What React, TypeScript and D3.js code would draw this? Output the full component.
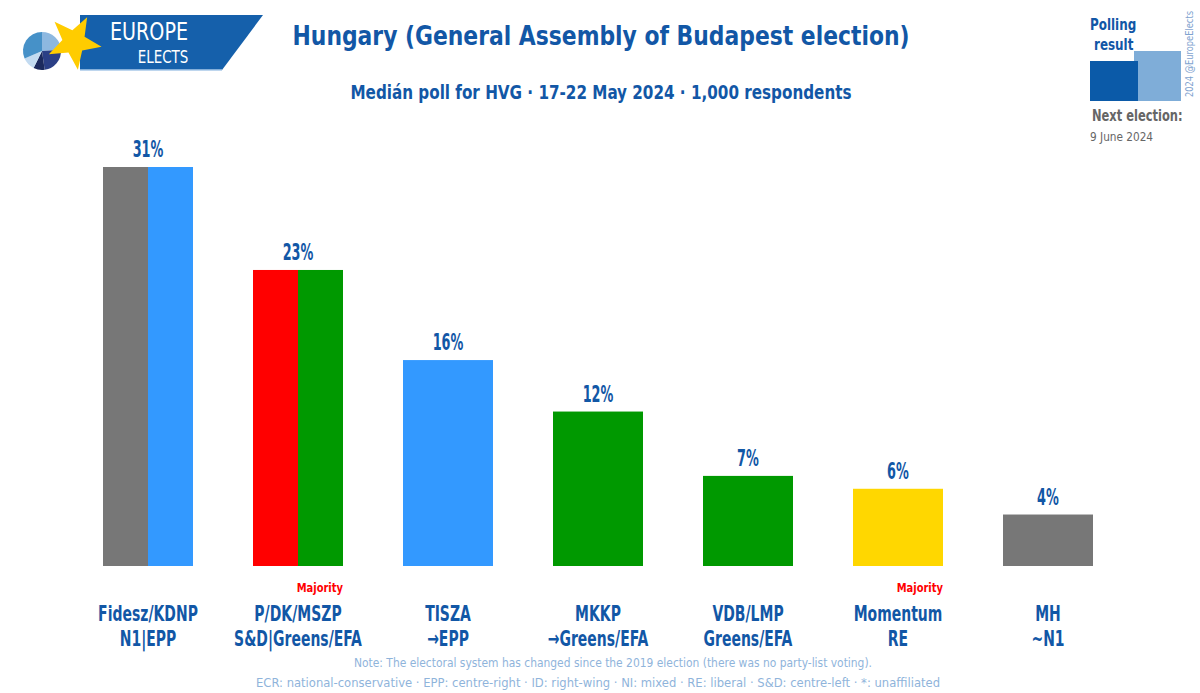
import * as d3 from 'd3';
import React, { useEffect, useRef } from 'react';

const parties = ['Fidesz/KDNP', 'P/DK/MSZP', 'TISZA', 'MKKP', 'VDB/LMP', 'Momentum', 'MH'];
const groups = ['N1|EPP', 'S&D|Greens/EFA', '→EPP', '→Greens/EFA', 'Greens/EFA', 'RE', '~N1'];
const values = [31, 23, 16, 12, 7, 6, 4];
const colorsLeft = ['#777777', '#ff0000', '#3399ff', '#009900', '#009900', '#ffd700', '#777777'];
const colorsRight = ['#3399ff', '#009900', '#3399ff', '#009900', '#009900', '#ffd700', '#777777'];
const majority = [false, true, false, false, false, true, false];

const blue = '#1257a6';
const font = "'DejaVu Sans', sans-serif";
const narrow: React.CSSProperties = { fontStretch: 'condensed' };

// text squeezed horizontally, to get near the narrow original font
const Squeezed = ({ x, y, s, children, ...rest }: any) => (
    <text transform={`translate(${x},${y}) scale(${s},1)`} fontFamily={font} style={narrow} {...rest}>
        {children}
    </text>
);

const starPoints = (cx: number, cy: number, r: number, a0: number) => {
    const pts: string[] = [];
    for (let k = 0; k < 10; k++) {
        const rr = k % 2 === 0 ? r : r * 0.42;
        const a = ((a0 + k * 36) * Math.PI) / 180;
        pts.push(`${cx + rr * Math.cos(a)},${cy + rr * Math.sin(a)}`);
    }
    return pts.join(' ');
};

const slice = (cx: number, cy: number, r: number, a1: number, a2: number) => {
    const arc = d3.arc()({ innerRadius: 0, outerRadius: r, startAngle: a1, endAngle: a2 } as any);
    return { d: arc!, t: `translate(${cx},${cy})` };
};

const App = () => {
    const ref = useRef<SVGGElement>(null);
    const width = 1200;
    const height = 693;

    useEffect(() => {
        const chart = d3.select(ref.current);
        chart.selectAll('*').remove();

        const x = d3.scaleBand().domain(parties).range([73, 1123]).paddingInner(0.4).paddingOuter(0.2);
        const y = d3.scaleLinear().domain([0, 31]).range([566, 167]);
        const half = x.bandwidth() / 2;

        // split bars (two halves each)
        chart.selectAll('.bar-l')
            .data(parties)
            .join('rect')
            .attr('x', (d) => x(d)!)
            .attr('y', (d, i) => y(values[i]))
            .attr('width', half)
            .attr('height', (d, i) => y(0) - y(values[i]))
            .attr('fill', (d, i) => colorsLeft[i]);
        chart.selectAll('.bar-r')
            .data(parties)
            .join('rect')
            .attr('x', (d) => x(d)! + half)
            .attr('y', (d, i) => y(values[i]))
            .attr('width', half)
            .attr('height', (d, i) => y(0) - y(values[i]))
            .attr('fill', (d, i) => colorsRight[i]);

        const txt = (sel: any) =>
            sel.attr('font-family', font).style('font-stretch', 'condensed').attr('font-weight', 'bold');

        chart.selectAll('.val')
            .data(parties)
            .join('text')
            .call(txt)
            .attr('transform', (d, i) => `translate(${x(d)! + half},${y(values[i]) - 10}) scale(0.62,1)`)
            .attr('text-anchor', 'middle')
            .attr('font-size', 23)
            .attr('fill', blue)
            .text((d, i) => `${values[i]}%`);

        chart.selectAll('.maj')
            .data(parties.filter((d, i) => majority[i]))
            .join('text')
            .call(txt)
            .attr('transform', (d) => `translate(${x(d)! + x.bandwidth()},592) scale(0.85,1)`)
            .attr('text-anchor', 'end')
            .attr('font-size', 13)
            .attr('fill', '#ff0000')
            .text('Majority');

        chart.selectAll('.party')
            .data(parties)
            .join('text')
            .call(txt)
            .attr('transform', (d) => `translate(${x(d)! + half},621) scale(0.74,1)`)
            .attr('text-anchor', 'middle')
            .attr('font-size', 21)
            .attr('fill', blue)
            .text((d) => d);
        chart.selectAll('.group')
            .data(groups)
            .join('text')
            .call(txt)
            .attr('transform', (d, i) => `translate(${x(parties[i])! + half},646) scale(0.74,1)`)
            .attr('text-anchor', 'middle')
            .attr('font-size', 21)
            .attr('fill', blue)
            .text((d) => d);
    }, []);

    const pie = [
        { ...slice(42, 51, 19, 0, 1.5), c: '#8db8e0' },
        { ...slice(42, 51, 19, 1.5, 3.0), c: '#2b3f86' },
        { ...slice(42, 51, 19, 3.0, 3.6), c: '#1c2a5e' },
        { ...slice(42, 51, 19, 3.6, 4.3), c: '#c3dbf1' },
        { ...slice(42, 51, 19, 4.3, 6.2832), c: '#4691c8' },
    ];

    return (
        <svg width={width} height={height} style={{ position: 'absolute', left: 0, top: 0, background: '#fff' }}>
            {/* logo */}
            <polygon points="80,15 263,15 222,70 80,70" fill="#1560ab" />
            <line x1="80" y1="70" x2="222" y2="70" stroke="#a9c8e8" strokeWidth="1.5" />
            {pie.map((p, i) => (
                <path key={i} d={p.d} transform={p.t} fill={p.c} />
            ))}
            <polygon points={starPoints(74, 42, 28, -134)} fill="#ffcc00" />
            <Squeezed x={149} y={40} s={0.85} fill="#fff" fontSize="25" textAnchor="middle">EUROPE</Squeezed>
            <Squeezed x={163} y={63} s={0.88} fill="#fff" fontSize="17" textAnchor="middle">ELECTS</Squeezed>

            <text x="601" y="45" textAnchor="middle" fontFamily={font} style={narrow} fontWeight="bold" fontSize="27" fill={blue}
                textLength="617" lengthAdjust="spacingAndGlyphs">
                Hungary (General Assembly of Budapest election)
            </text>
            <text x="601" y="99" textAnchor="middle" fontFamily={font} style={narrow} fontWeight="bold" fontSize="19" fill={blue}
                textLength="501" lengthAdjust="spacingAndGlyphs">
                Medián poll for HVG · 17-22 May 2024 · 1,000 respondents
            </text>

            {/* legend */}
            <Squeezed x={1090} y={30} s={0.83} fontWeight="bold" fontSize="16" fill={blue}>Polling</Squeezed>
            <Squeezed x={1094} y={50} s={0.83} fontWeight="bold" fontSize="16" fill={blue}>result</Squeezed>
            <rect x="1134" y="51" width="47" height="50" fill="#7fadd8" />
            <rect x="1090" y="61" width="48" height="40" fill="#0b5aa8" />
            <Squeezed x={1092} y={121} s={0.85} fontWeight="bold" fontSize="15" fill="#666">Next election:</Squeezed>
            <Squeezed x={1090} y={141} s={0.9} fontSize="13" fill="#666">9 June 2024</Squeezed>
            <text transform="translate(1193,97) rotate(-90)" fontFamily={font} style={narrow} fontSize="10" fill="#7fa3cf"
                textLength="86" lengthAdjust="spacingAndGlyphs">
                2024 @EuropeElects
            </text>

            <g ref={ref} />

            {/* notes */}
            <text x="613" y="667" textAnchor="middle" fontFamily={font} style={narrow} fontSize="13" fill="#8fb4db"
                textLength="518" lengthAdjust="spacingAndGlyphs">
                Note: The electoral system has changed since the 2019 election (there was no party-list voting).
            </text>
            <text x="598" y="687" textAnchor="middle" fontFamily={font} style={narrow} fontSize="13" fill="#8fb4db"
                textLength="684" lengthAdjust="spacingAndGlyphs">
                ECR: national-conservative · EPP: centre-right · ID: right-wing · NI: mixed · RE: liberal · S&amp;D: centre-left · *: unaffiliated
            </text>
        </svg>
    );
};

export default App;
